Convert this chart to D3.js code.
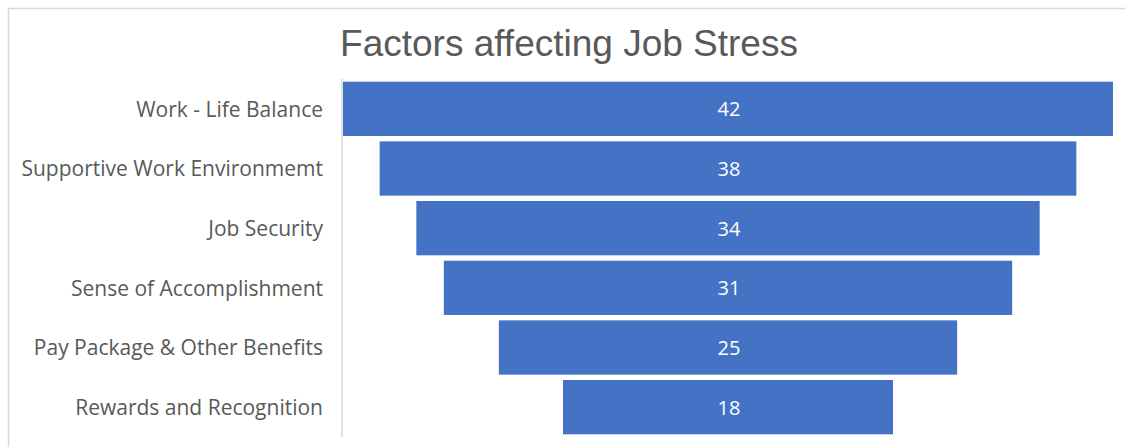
<!DOCTYPE html>
<html>
<head>
<meta charset="utf-8">
<script src="https://cdn.jsdelivr.net/npm/d3@7"></script>
<style>
  body { margin: 0; background: #fff; }
  svg { display: block; }
</style>
</head>
<body>
<div id="chart"></div>
<script>
const categories = [
  "Work - Life Balance",
  "Supportive Work Environmemt",
  "Job Security",
  "Sense of Accomplishment",
  "Pay Package & Other Benefits",
  "Rewards and Recognition"
];
const values = [42, 38, 34, 31, 25, 18];
const title = "Factors affecting Job Stress";

const width = 1125;
const height = 447;

const svg = d3.select("#chart")
  .append("svg")
  .attr("width", width)
  .attr("height", height);

// chart area border (runs past the window on right/bottom)
svg.append("rect")
  .attr("x", 8.5)
  .attr("y", 8.5)
  .attr("width", 1200)
  .attr("height", 600)
  .attr("fill", "none")
  .attr("stroke", "#d9d9d9")
  .attr("stroke-width", 1.5);

svg.append("text")
  .attr("x", 569)
  .attr("y", 56)
  .attr("text-anchor", "middle")
  .attr("font-family", "Liberation Sans, Arial, sans-serif")
  .attr("font-size", 37)
  .attr("fill", "#595959")
  .text(title);

const axisX = 342;
const centerX = 728;

const y = d3.scaleBand()
  .domain(categories)
  .range([79, 437])
  .paddingInner(0.09)
  .paddingOuter(0.045);

const x = d3.scaleLinear()
  .domain([0, 42])
  .range([0, 770]);

svg.append("line")
  .attr("x1", axisX)
  .attr("x2", axisX)
  .attr("y1", 79)
  .attr("y2", 437)
  .attr("stroke", "#d9d9d9")
  .attr("stroke-width", 1.5);

const data = categories.map((c, i) => ({ name: c, value: values[i] }));

svg.selectAll("rect.bar")
  .data(data)
  .enter()
  .append("rect")
  .attr("class", "bar")
  .attr("x", (d) => centerX - x(d.value) / 2)
  .attr("y", (d) => y(d.name))
  .attr("width", (d) => x(d.value))
  .attr("height", y.bandwidth())
  .attr("fill", "#4472c4");

svg.selectAll("text.val")
  .data(data)
  .enter()
  .append("text")
  .attr("class", "val")
  .attr("x", centerX + 1)
  .attr("y", (d) => y(d.name) + y.bandwidth() / 2)
  .attr("dy", "0.37em")
  .attr("text-anchor", "middle")
  .attr("font-family", "Open Sans, sans-serif")
  .attr("font-size", 20)
  .attr("fill", "#ffffff")
  .text((d) => d.value);

svg.selectAll("text.cat")
  .data(data)
  .enter()
  .append("text")
  .attr("class", "cat")
  .attr("x", 323)
  .attr("y", (d) => y(d.name) + y.bandwidth() / 2)
  .attr("dy", "0.37em")
  .attr("text-anchor", "end")
  .attr("font-family", "Open Sans, sans-serif")
  .attr("font-size", 21)
  .attr("fill", "#595959")
  .text((d) => d.name);
</script>
</body>
</html>
